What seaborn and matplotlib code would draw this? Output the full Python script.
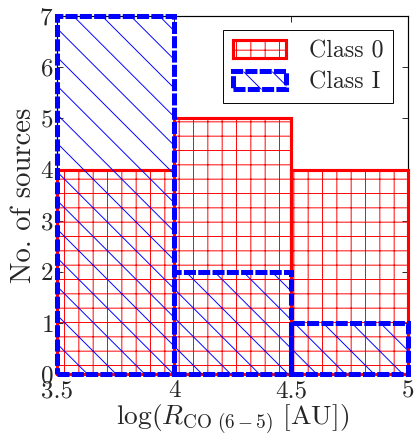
import numpy as np
import pandas as pd
import matplotlib
matplotlib.use("Agg")
import matplotlib.pyplot as plt
from matplotlib.patches import Patch
import seaborn as sns

bin_edges = [3.5, 4.0, 4.5, 5.0]
bin_centers = [3.75, 4.25, 4.75]
class0_counts = [4, 5, 4]
classI_counts = [7, 2, 1]
xticks = [3.5, 4, 4.5, 5]
yticks = [0, 1, 2, 3, 4, 5, 6, 7]

sns.set_style("ticks")
plt.rcParams.update({
    "font.family": "serif",
    "font.serif": ["cmr10", "DejaVu Serif"],
    "mathtext.fontset": "cm",
    "axes.formatter.use_mathtext": True,
    "hatch.linewidth": 0.8,
    "axes.unicode_minus": False,
})

DPI = 86
fig = plt.figure(figsize=(417 / DPI, 435 / DPI), dpi=DPI)
ax = fig.add_axes([0.137, 0.140, 0.841, 0.823])

df0 = pd.DataFrame({"x": bin_centers, "w": class0_counts})
dfI = pd.DataFrame({"x": bin_centers, "w": classI_counts})

sns.histplot(data=df0, x="x", weights="w", bins=bin_edges, element="bars",
             fill=True, color="red", ax=ax)
n0 = len(ax.patches)
sns.histplot(data=dfI, x="x", weights="w", bins=bin_edges, element="bars",
             fill=True, color="blue", ax=ax)

for i, p in enumerate(ax.patches):
    p.set_alpha(None)
    p.set_facecolor("none")
    p.set_clip_on(False)
    if i < n0:
        p.set_edgecolor("red")
        p.set_linewidth(2.6)
        p.set_hatch("+")
        if hasattr(p, "set_hatchcolor"):
            p.set_hatchcolor((1, 0, 0, 0.85))
        p.set_zorder(2)
    else:
        p.set_edgecolor("blue")
        p.set_linewidth(4.2)
        p.set_linestyle((0, (2.4, 0.45)))
        p.set_hatch("\\")
        if hasattr(p, "set_hatchcolor"):
            p.set_hatchcolor((0.2, 0.2, 1, 0.5))
        p.set_zorder(3)

ax.set_xlim(3.5, 5)
ax.set_ylim(0, 7)
ax.set_xticks(xticks)
ax.set_xticklabels(["3.5", "4", "4.5", "5"])
ax.set_yticks(yticks)
ax.tick_params(direction="in", top=True, right=True, length=5, width=0.8,
               labelsize=21)
ax.tick_params(axis="x", pad=5)
ax.tick_params(axis="y", pad=3)
for s in ax.spines.values():
    s.set_linewidth(1.0)
    s.set_color("black")
    s.set_zorder(1)

ax.set_xlabel(r"$\log(R_{\mathrm{CO\ (6-5)}}\ [\mathrm{AU}])$", fontsize=23, labelpad=0)
ax.set_ylabel("No. of sources", fontsize=24, labelpad=2)

handles = [
    Patch(facecolor="none", edgecolor="red", linewidth=2.6, hatch="+"),
    Patch(facecolor="none", edgecolor="blue", linewidth=4.2,
          linestyle=(0, (2.4, 0.45)), hatch="\\"),
]
leg = ax.legend(handles, ["Class 0", "Class I"], loc="upper right",
                fontsize=20, frameon=True, fancybox=False, edgecolor="black",
                framealpha=1, borderaxespad=0.6, handlelength=2.2,
                handleheight=0.8, labelspacing=0.35, borderpad=0.4,
                handletextpad=1.0)
leg.get_frame().set_linewidth(0.8)

fig.savefig("out.png", dpi=DPI)
